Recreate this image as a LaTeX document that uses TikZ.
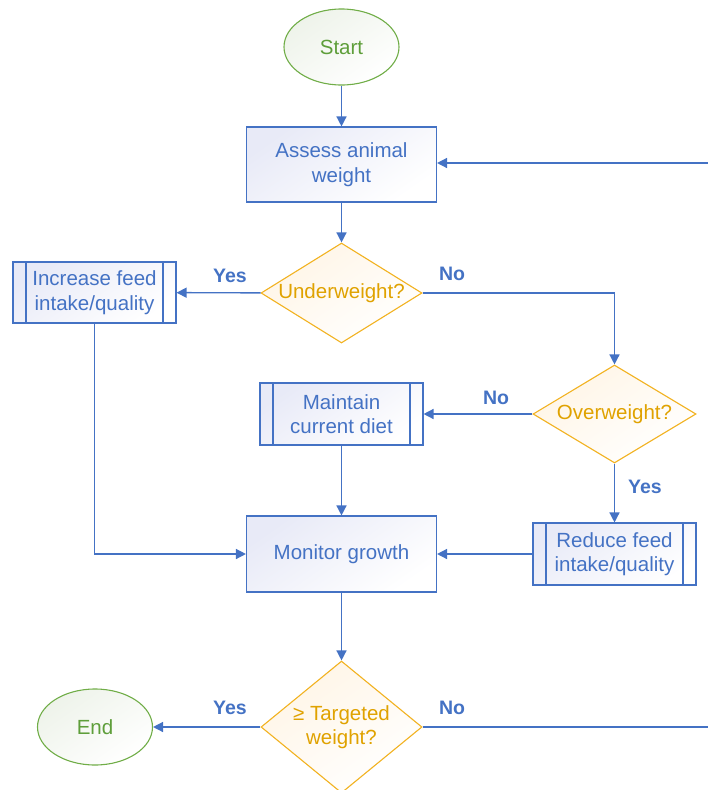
\documentclass[tikz,border=0pt]{standalone}
\usepackage{fontspec}
\setmainfont{Liberation Sans}
\usetikzlibrary{shapes.geometric,arrows.meta}
\definecolor{lineblue}{HTML}{4472C4}
\definecolor{txtblue}{HTML}{4472C4}
\definecolor{boxfill}{HTML}{E8EAF7}
\definecolor{dorange}{HTML}{F2B220}
\definecolor{dtext}{HTML}{E0A200}
\definecolor{dfill}{HTML}{FFF5E6}
\definecolor{egreen}{HTML}{70AD47}
\definecolor{etext}{HTML}{5E9E3A}
\definecolor{efill}{HTML}{EEF3EA}
\begin{document}
\begin{tikzpicture}[x=1pt,y=-1pt,
  every node/.style={font=\fontsize{20.5}{24.5}\selectfont, align=center, inner sep=0pt},
  procbox/.style={rectangle, draw=lineblue, line width=1.1pt, text=txtblue,
    top color=boxfill, bottom color=white, shading angle=35},
  predef/.style={procbox, path picture={
    \draw[lineblue, line width=1.1pt] ([xshift=13pt]path picture bounding box.north west) -- ([xshift=13pt]path picture bounding box.south west);
    \draw[lineblue, line width=1.1pt] ([xshift=-13pt]path picture bounding box.north east) -- ([xshift=-13pt]path picture bounding box.south east);}},
  decis/.style={diamond, draw=dorange, line width=1.1pt, text=dtext,
    top color=dfill, bottom color=white, shading angle=35},
  term/.style={ellipse, draw=egreen, line width=1.1pt, text=etext,
    top color=efill, bottom color=white, shading angle=35,
    minimum width=115pt, minimum height=76pt},
  conn/.style={draw=lineblue, line width=1.4pt},
  arr/.style={conn, -{Triangle[length=10pt,width=10pt]}},
  lab/.style={text=txtblue, font=\fontsize{19.5}{24}\selectfont\bfseries}
]
\useasboundingbox (0,0) rectangle (708,790);
\clip (0,0) rectangle (708,790);

\node[term] (start) at (341.5,47) {Start};
\node[procbox, minimum width=190pt, minimum height=75pt] (assess) at (341.5,164.5) {Assess animal\\weight};
\node[decis, aspect=1.61, minimum width=161pt, minimum height=100pt] (under) at (341.5,293) {Underweight?};
\node[predef, minimum width=163pt, minimum height=61pt] (inc) at (94.5,292.5) {Increase feed\\intake/quality};
\node[decis, aspect=1.663, minimum width=163pt, minimum height=98pt] (over) at (614.5,414) {Overweight?};
\node[predef, minimum width=163pt, minimum height=62pt] (maint) at (341.5,414) {Maintain\\current diet};
\node[predef, minimum width=163pt, minimum height=62pt] (red) at (614.5,554) {Reduce feed\\intake/quality};
\node[procbox, minimum width=190pt, minimum height=76pt] (mon) at (341.5,554) {Monitor growth};
\node[decis, aspect=1.22, minimum width=161pt, minimum height=132pt] (targ) at (341.5,727) {≥ Targeted\\weight?};
\node[term] (end) at (95,727) {End};

\coordinate (r1) at (708,163);
\coordinate (r2) at (708,727);

\draw[arr] (start) -- (assess);
\draw[arr] (r1) -- (assess.east |- r1);
\draw[arr] (assess) -- (under);
\draw[arr] (under) -- (inc);
\draw[arr] (under.east) -| (over.north);
\draw[arr] (over) -- (maint);
\draw[arr] (over) -- (red);
\draw[arr] (maint) -- (mon);
\draw[arr] (red) -- (mon);
\draw[arr] (inc.south) |- (mon.west);
\draw[arr] (mon) -- (targ);
\draw[arr] (targ) -- (end);
\draw[conn] (targ.east) -- (r2);

\node[lab] (l1) at (230,276) {Yes};
\node[lab] (l2) at (452,274) {No};
\node[lab] (l3) at (496,398) {No};
\node[lab] (l4) at (645,487) {Yes};
\node[lab] (l5) at (230,708) {Yes};
\node[lab] (l6) at (452,708) {No};
\end{tikzpicture}
\end{document}
